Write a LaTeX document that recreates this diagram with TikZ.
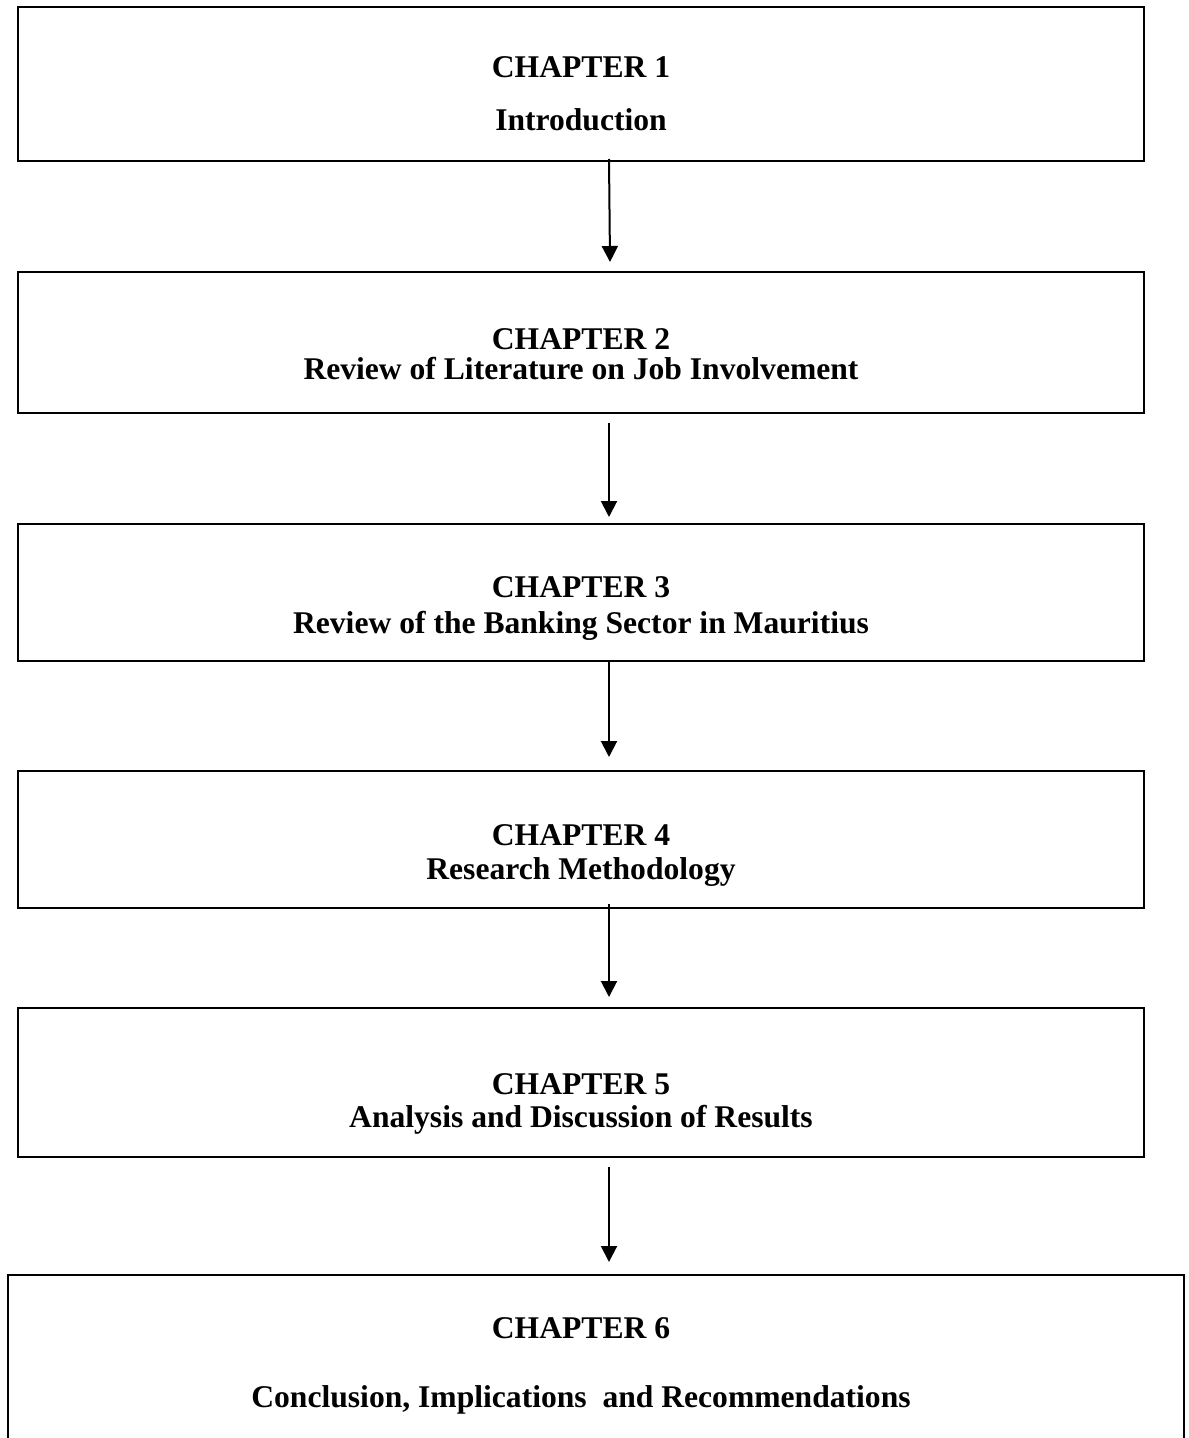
\documentclass[tikz,border=0pt]{standalone}
\usepackage{fontspec}
\setmainfont{Liberation Serif}
\usetikzlibrary{arrows.meta}
\begin{document}
\begin{tikzpicture}[x=0.5pt,y=-0.5pt,
  chapbox/.style={draw=black,line width=1pt,rectangle,inner sep=0pt,fill=none},
  lbl/.style={anchor=base,inner sep=0pt,font=\fontsize{15.8}{18}\selectfont\bfseries},
  arr/.style={line width=1pt,-{Triangle[width=8pt,length=8pt]}}]
\useasboundingbox (0,0) rectangle (1188,1438);
\clip (0,0) rectangle (1188,1438);
\fill[white] (0,0) rectangle (1188,1438);
% boxes
\node[chapbox,minimum width=563pt,minimum height=77pt] (b1) at (581,84) {};
\node[chapbox,minimum width=563pt,minimum height=70.5pt] (b2) at (581,342.5) {};
\node[chapbox,minimum width=563pt,minimum height=68.5pt] (b3) at (581,592.5) {};
\node[chapbox,minimum width=563pt,minimum height=68.5pt] (b4) at (581,839.5) {};
\node[chapbox,minimum width=563pt,minimum height=74.5pt] (b5) at (581,1082.5) {};
\node[chapbox,minimum width=588pt,minimum height=92.5pt] (b6) at (596,1367.5) {};
% labels
\node[lbl] (t1a) at (581,78) {CHAPTER 1};
\node[lbl] (t1b) at (581,131) {Introduction};
\node[lbl] (t2a) at (581,350) {CHAPTER 2};
\node[lbl] (t2b) at (581,380) {Review of Literature on Job Involvement};
\node[lbl] (t3a) at (581,597) {CHAPTER 3};
\node[lbl] (t3b) at (581,633) {Review of the Banking Sector in Mauritius};
\node[lbl] (t4a) at (581,845) {CHAPTER 4};
\node[lbl] (t4b) at (581,879) {Research Methodology};
\node[lbl] (t5a) at (581,1094) {CHAPTER 5};
\node[lbl] (t5b) at (581,1127) {Analysis and Discussion of Results};
\node[lbl] (t6a) at (581,1338) {CHAPTER 6};
\node[lbl] (t6b) at (581,1407) {Conclusion, Implications\ \ and Recommendations};
% arrows
\draw[arr] ([xshift=14pt,yshift=1.5pt]b1.south) -- ([xshift=14.5pt,yshift=4.5pt]b2.north);
\draw[arr] ([xshift=14pt,yshift=-4.5pt]b2.south) -- ([xshift=14pt,yshift=3pt]b3.north);
\draw[arr] ([xshift=14pt]b3.south) -- ([xshift=14pt,yshift=6.5pt]b4.north);
\draw[arr] ([xshift=14pt,yshift=2.5pt]b4.south) -- ([xshift=14pt,yshift=5pt]b5.north);
\draw[arr] ([xshift=14pt,yshift=-4.5pt]b5.south) -- ([xshift=14pt,yshift=6pt]b6.north -| b5.south);
\end{tikzpicture}
\end{document}
